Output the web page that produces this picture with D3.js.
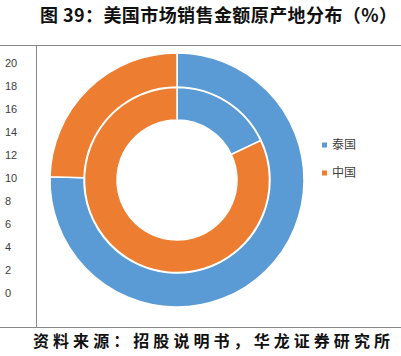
<!DOCTYPE html>
<html><head><meta charset="utf-8">
<script src="https://cdn.jsdelivr.net/npm/d3@7"></script>
<style>body{margin:0;background:#fff}svg{display:block}</style>
</head><body>
<script>
const categories = ["泰国", "中国"];
const outerValues = [75.4, 24.6];
const innerValues = [18.0, 82.0];
const yTicks = [0, 2, 4, 6, 8, 10, 12, 14, 16, 18, 20];
const colors = ["#5B9BD5", "#ED7D31"];
const titleText = "图 39：美国市场销售金额原产地分布（%）";
const sourceText = "资料来源：招股说明书，华龙证券研究所";

const W = 401, H = 356;
const svg = d3.select("body").append("svg").attr("width", W).attr("height", H);
const cjk = "'Noto Sans CJK SC', sans-serif";

svg.append("text").attr("x", 40).attr("y", 22)
  .attr("font-family", cjk).attr("font-weight", "bold").attr("font-size", 18)
  .attr("textLength", 357).attr("lengthAdjust", "spacing")
  .attr("fill", "#111").text(titleText);

// frame lines
svg.append("line").attr("x1", 0).attr("x2", W).attr("y1", 45.5).attr("y2", 45.5).attr("stroke", "#888").attr("stroke-width", 1.2);
svg.append("line").attr("x1", 0).attr("x2", W).attr("y1", 327.5).attr("y2", 327.5).attr("stroke", "#888").attr("stroke-width", 1.2);
svg.append("line").attr("x1", 36.5).attr("x2", 36.5).attr("y1", 45.5).attr("y2", 327.5).attr("stroke", "#888").attr("stroke-width", 1);

// y axis labels
const y = d3.scaleLinear().domain([0, 20]).range([293, 63]);
svg.append("g").selectAll("text").data(yTicks).join("text")
  .attr("x", 5).attr("y", d => y(d)).attr("dy", "0.35em")
  .attr("font-family", "'Liberation Sans', Arial, sans-serif").attr("font-size", 11)
  .attr("fill", "#404040").text(d => d);

// donut
const cx = 177, cy = 180;
const pie = d3.pie().sort(null).value(d => d);
const g = svg.append("g").attr("transform", `translate(${cx},${cy})`);
const outerArc = d3.arc().innerRadius(93).outerRadius(127);
const innerArc = d3.arc().innerRadius(60).outerRadius(92.5);
g.append("g").selectAll("path").data(pie(outerValues)).join("path")
  .attr("d", outerArc).attr("fill", (d, i) => colors[i]).attr("stroke", "#fff").attr("stroke-width", 1.5);
g.append("g").selectAll("path").data(pie(innerValues)).join("path")
  .attr("d", innerArc).attr("fill", (d, i) => colors[i]).attr("stroke", "#fff").attr("stroke-width", 1.5);

// legend
const lg = svg.append("g").selectAll("g").data(categories).join("g")
  .attr("transform", (d, i) => `translate(322,${145 + i * 28})`);
lg.append("rect").attr("x", 0).attr("y", -2.5).attr("width", 5).attr("height", 5).attr("fill", (d, i) => colors[i]);
lg.append("text").attr("x", 10).attr("y", 0).attr("dy", "0.36em")
  .attr("font-family", cjk).attr("font-size", 12).attr("fill", "#404040").text(d => d);

svg.append("text").attr("x", 33).attr("y", 347)
  .attr("font-family", cjk).attr("font-weight", 600).attr("font-size", 16)
  .attr("textLength", 357).attr("lengthAdjust", "spacing")
  .attr("fill", "#111").text(sourceText);
</script>
</body></html>
